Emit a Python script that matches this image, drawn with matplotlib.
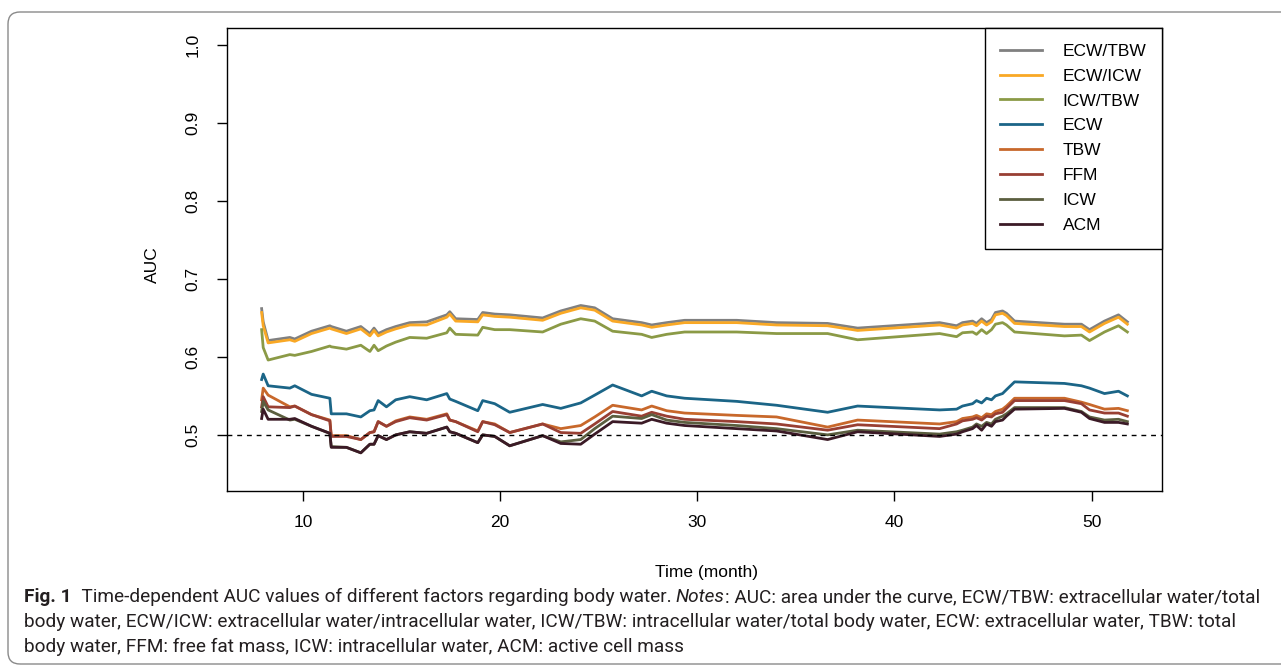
import matplotlib
matplotlib.use("Agg")
import matplotlib.pyplot as plt
from matplotlib.patches import FancyBboxPatch
from matplotlib.transforms import IdentityTransform
from matplotlib import font_manager

# ---------------- data ----------------
months = [7.91, 7.99, 8.24, 9.34, 9.59, 10.44, 11.37, 11.44, 12.21, 12.94,
          13.40, 13.61, 13.82, 14.24, 14.71, 15.42, 16.28, 17.30, 17.45, 17.75,
          18.87, 19.12, 19.73, 20.49, 22.16, 23.08, 24.09, 24.80, 25.71, 27.18,
          27.69, 28.45, 29.36, 32.00, 34.02, 36.61, 38.13, 42.29, 43.15, 43.45,
          43.96, 44.16, 44.42, 44.67, 44.92, 45.12, 45.48, 45.68, 46.09, 48.62,
          49.48, 49.89, 50.65, 51.36, 51.81]

ecw_tbw = [.662, .645, .621, .625, .623, .633, .640, .639, .633, .639,
           .630, .637, .630, .635, .639, .644, .645, .654, .658, .649,
           .648, .657, .655, .654, .650, .659, .666, .663, .649, .644,
           .641, .644, .647, .647, .644, .643, .637, .644, .640, .644,
           .646, .643, .649, .644, .648, .657, .659, .656, .646, .642,
           .642, .635, .646, .654, .645]
ecw_icw = [.657, .640, .618, .622, .620, .630, .637, .636, .630, .636,
           .627, .634, .627, .632, .636, .641, .641, .651, .655, .646,
           .645, .654, .652, .651, .647, .656, .663, .660, .646, .641,
           .638, .641, .644, .644, .641, .640, .634, .641, .637, .641,
           .643, .640, .646, .641, .645, .654, .656, .653, .643, .639,
           .639, .632, .643, .651, .642]
icw_tbw = [.635, .612, .596, .603, .602, .607, .614, .613, .610, .615,
           .607, .615, .608, .614, .619, .625, .624, .631, .637, .629,
           .628, .638, .635, .635, .632, .642, .649, .646, .633, .629,
           .625, .629, .632, .632, .630, .630, .622, .630, .626, .631,
           .632, .629, .635, .630, .635, .642, .644, .641, .632, .627,
           .628, .621, .632, .640, .632]
ecw = [.571, .578, .563, .560, .563, .552, .547, .527, .527, .523,
       .531, .532, .544, .536, .545, .549, .545, .553, .546, .543,
       .531, .544, .540, .529, .539, .534, .541, .551, .564, .550,
       .556, .550, .547, .543, .538, .529, .537, .532, .533, .537,
       .540, .544, .541, .547, .545, .550, .553, .558, .568, .566,
       .563, .560, .553, .556, .550]
tbw = [.545, .560, .551, .536, .537, .526, .519, .499, .499, .494,
       .503, .504, .517, .511, .518, .523, .520, .527, .519, .517,
       .505, .517, .514, .503, .514, .508, .512, .523, .538, .532,
       .537, .531, .528, .525, .523, .510, .519, .514, .517, .521,
       .523, .525, .522, .527, .526, .530, .533, .537, .547, .547,
       .542, .539, .533, .534, .531]
ffm = [.536, .549, .536, .535, .537, .526, .518, .498, .498, .494,
       .503, .504, .517, .511, .517, .522, .519, .526, .519, .517,
       .504, .517, .513, .503, .514, .503, .502, .514, .530, .524,
       .529, .524, .520, .517, .514, .506, .513, .508, .514, .518,
       .520, .522, .519, .524, .523, .527, .529, .534, .544, .544,
       .540, .532, .528, .528, .524]
icw = [.530, .543, .532, .519, .520, .511, .502, .485, .484, .477,
       .488, .488, .499, .494, .500, .504, .502, .510, .504, .502,
       .490, .500, .498, .486, .499, .491, .494, .508, .524, .521,
       .526, .519, .516, .512, .508, .500, .506, .501, .504, .506,
       .510, .514, .511, .516, .514, .520, .524, .527, .535, .535,
       .530, .523, .519, .520, .517]
acm = [.521, .533, .520, .520, .521, .511, .502, .484, .484, .477,
       .488, .488, .499, .494, .500, .504, .502, .510, .504, .502,
       .490, .500, .498, .486, .499, .489, .488, .501, .517, .515,
       .520, .515, .512, .508, .505, .494, .504, .498, .501, .504,
       .508, .512, .506, .514, .511, .517, .519, .524, .533, .534,
       .529, .521, .516, .516, .514]

series_names = ["ECW/TBW", "ECW/ICW", "ICW/TBW", "ECW", "TBW", "FFM", "ICW", "ACM"]
series_values = [ecw_tbw, ecw_icw, icw_tbw, ecw, tbw, ffm, icw, acm]
series_colors = ["#808080", "#F9A825", "#8B9A46", "#1B6587",
                 "#C8682B", "#983F33", "#5B5E3F", "#3B1A26"]

y_ticks = [0.5, 0.6, 0.7, 0.8, 0.9, 1.0]
y_tick_labels = ["0.5", "0.6", "0.7", "0.8", "0.9", "1.0"]
x_ticks = [10, 20, 30, 40, 50]

caption_lines = [
    [("Fig. 1", "bold", "normal"),
     ("  Time-dependent AUC values of different factors regarding body water. ", "normal", "normal"),
     ("Notes", "normal", "italic"),
     (": AUC: area under the curve, ECW/TBW: extracellular water/total", "normal", "normal")],
    [("body water, ECW/ICW: extracellular water/intracellular water, ICW/TBW: intracellular water/total body water, ECW: extracellular water, TBW: total", "normal", "normal")],
    [("body water, FFM: free fat mass, ICW: intracellular water, ACM: active cell mass", "normal", "normal")],
]

# ---------------- figure ----------------
W, H = 1281, 670
plt.rcParams["font.family"] = ["Liberation Sans", "DejaVu Sans"]
fig = plt.figure(figsize=(W / 100, H / 100), dpi=100)

# rounded frame of the figure panel
frame = FancyBboxPatch((8, H - 664), 1300, 652, boxstyle="round,pad=0,rounding_size=12",
                       transform=IdentityTransform(), facecolor="none",
                       edgecolor="#8a8a8a", linewidth=1.0)
fig.patches.append(frame)

ax = fig.add_axes([227 / W, 1 - 491 / H, (1162 - 227) / W, (491 - 28) / H])
for name, vals, col in zip(series_names, series_values, series_colors):
    ax.plot(months, vals, color=col, lw=2.0, label=name, solid_joinstyle="round")

ax.axhline(0.5, color="black", lw=1.0, linestyle=(0, (3.5, 3.5)))

ymin, ymax = 0.45, 1.0
ax.set_ylim(ymin - 0.04 * (ymax - ymin), ymax + 0.04 * (ymax - ymin))
xr = max(months) - min(months)
ax.set_xlim(min(months) - 0.04 * xr, max(months) + 0.04 * xr)

ax.set_yticks(y_ticks)
ax.set_yticklabels(y_tick_labels, rotation=90, va="center")
ax.set_xticks(x_ticks)
ax.tick_params(axis="both", direction="out", length=7, width=1, labelsize=12.5,
               colors="black")
ax.tick_params(axis="x", pad=10)
ax.tick_params(axis="y", pad=12)
for sp in ax.spines.values():
    sp.set_linewidth(1.0)
    sp.set_color("black")

ax.set_xlabel("Time (month)", fontsize=12.5)
ax.set_ylabel("AUC", fontsize=12.5)
ax.xaxis.set_label_coords(0.513, -0.16)
ax.yaxis.set_label_coords(-0.072, 0.49)

leg = ax.legend(loc="upper right", bbox_to_anchor=(1, 1), borderaxespad=0,
                fontsize=12.5, frameon=True, fancybox=False, framealpha=1,
                edgecolor="black", handlelength=2.4, handletextpad=1.2,
                labelspacing=0.56, borderpad=0.9)
leg.get_frame().set_linewidth(1.0)

# ---------------- caption ----------------
available = {f.name for f in font_manager.fontManager.ttflist}
cap_font = "Liberation Sans Narrow" if "Liberation Sans Narrow" in available else "Roboto"
renderer = fig.canvas.get_renderer()

# size caption so that line 2 spans the same width as in the reference
probe = fig.text(0, 0, caption_lines[1][0][0], fontsize=10, family=cap_font)
w10 = probe.get_window_extent(renderer=renderer).width
probe.remove()
cap_size = 10 * (1232 - 24) / w10

line_y = [597, 622, 647]
for parts, yy in zip(caption_lines, line_y):
    x = 24
    for text, weight, style in parts:
        t = fig.text(x / W, 1 - yy / H, text, fontsize=cap_size, family=cap_font,
                     fontweight=weight, fontstyle=style, color="#231F20",
                     ha="left", va="center")
        x += t.get_window_extent(renderer=renderer).width

fig.savefig("out.png", dpi=100)
